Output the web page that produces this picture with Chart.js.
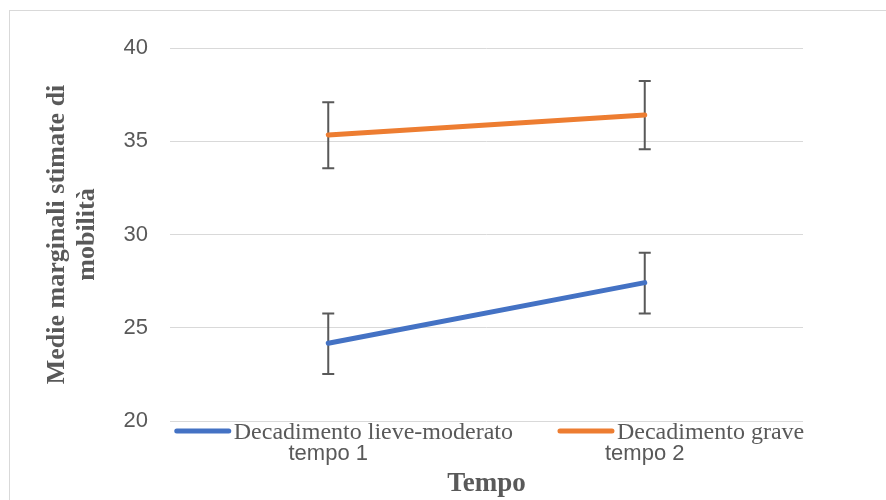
<!DOCTYPE html>
<html lang="it">
<head>
    <meta charset="UTF-8">
    <title>Medie marginali stimate di mobilità</title>
    <script src="https://cdn.jsdelivr.net/npm/chart.js@4.4.0"></script>
    <style>
        body { margin: 0; background: #fff; overflow: hidden; }
        .frame { position: absolute; left: 9px; top: 10px; width: 900px; height: 520px; border: 1px solid #d9d9d9; }
        canvas { position: absolute; left: 0; top: 0; }
    </style>
</head>
<body>
    <div class="frame"></div>
    <canvas id="chart" width="886" height="500"></canvas>

    <script>
        // valori
        const categories = ['tempo 1', 'tempo 2'];
        const seriesNames = ['Decadimento lieve-moderato', 'Decadimento grave'];
        const lieveMean = [24.17, 27.42];
        const lieveLow = [22.52, 25.77];
        const lieveHigh = [25.77, 29.02];
        const graveMean = [35.34, 36.41];
        const graveLow = [33.55, 34.57];
        const graveHigh = [37.09, 38.23];
        const yTicks = [20, 25, 30, 35, 40];

        const textColor = '#595959';
        const serif = "'Liberation Serif', 'Times New Roman', serif";
        const sans = "'Liberation Sans', Arial, sans-serif";

        // barre di errore, disegnate sotto le linee
        const errorBars = {
            id: 'errorBars',
            beforeDatasetsDraw(chart) {
                const { ctx, scales: { x, y } } = chart;
                ctx.save();
                ctx.strokeStyle = textColor;
                ctx.lineWidth = 2;
                chart.data.datasets.forEach(ds => {
                    ds.low.forEach((lo, i) => {
                        const px = x.getPixelForValue(i);
                        const top = y.getPixelForValue(ds.high[i]);
                        const bot = y.getPixelForValue(lo);
                        ctx.beginPath();
                        ctx.moveTo(px, top); ctx.lineTo(px, bot);
                        ctx.moveTo(px - 6, top); ctx.lineTo(px + 6, top);
                        ctx.moveTo(px - 6, bot); ctx.lineTo(px + 6, bot);
                        ctx.stroke();
                    });
                });
                ctx.restore();
            }
        };

        // legenda in stile Excel, sovrapposta all'asse
        const excelLegend = {
            id: 'excelLegend',
            afterDraw(chart) {
                const { ctx, chartArea } = chart;
                ctx.save();
                ctx.font = '24px ' + serif;
                const sample = 56, gapText = 3, gapItem = 45;
                const items = chart.data.datasets.map(ds => ({ ds, w: ctx.measureText(ds.label).width }));
                const total = items.reduce((s, it) => s + sample + gapText + it.w, 0) + gapItem * (items.length - 1);
                let xPos = (chartArea.left + chartArea.right) / 2 - total / 2 + 3;
                const yLine = 431, yText = 439;
                items.forEach(it => {
                    ctx.strokeStyle = it.ds.borderColor;
                    ctx.lineWidth = 5;
                    ctx.lineCap = 'round';
                    ctx.beginPath();
                    ctx.moveTo(xPos + 2, yLine); ctx.lineTo(xPos + sample - 2, yLine);
                    ctx.stroke();
                    ctx.fillStyle = textColor;
                    ctx.textBaseline = 'alphabetic';
                    ctx.fillText(it.ds.label, xPos + sample + gapText, yText);
                    xPos += sample + gapText + it.w + gapItem;
                });
                ctx.restore();
            }
        };

        new Chart(document.getElementById('chart'), {
            type: 'line',
            data: {
                labels: categories,
                datasets: [
                    { label: seriesNames[0], data: lieveMean, low: lieveLow, high: lieveHigh,
                      borderColor: '#4472c4', backgroundColor: '#4472c4' },
                    { label: seriesNames[1], data: graveMean, low: graveLow, high: graveHigh,
                      borderColor: '#ed7d31', backgroundColor: '#ed7d31' }
                ]
            },
            options: {
                responsive: false,
                animation: false,
                layout: { padding: { top: 48, right: 83, bottom: 0, left: 0 } },
                elements: {
                    line: { borderWidth: 5, tension: 0, borderCapStyle: 'round' },
                    point: { radius: 0, hoverRadius: 0 }
                },
                scales: {
                    x: {
                        offset: true,
                        grid: { display: false, drawTicks: false },
                        border: { display: false },
                        ticks: { color: textColor, font: { family: sans, size: 22 }, padding: 20, maxRotation: 0 },
                        title: { display: true, text: 'Tempo', color: textColor,
                                 font: { family: serif, size: 27, weight: 'bold' }, padding: { top: 0, bottom: 0 } },
                        afterFit(scale) { scale.height = 79; }
                    },
                    y: {
                        min: 20, max: 40,
                        afterBuildTicks(scale) { scale.ticks = yTicks.map(v => ({ value: v })); },
                        grid: { color: '#d9d9d9', lineWidth: 1, drawTicks: false },
                        border: { display: false },
                        ticks: { color: textColor, font: { family: sans, size: 22 }, padding: 22 },
                        title: { display: true, text: ['Medie marginali stimate di', 'mobilità'], color: textColor,
                                 font: { family: serif, size: 26, weight: 'bold', lineHeight: 30 / 26 },
                                 padding: { top: 42, bottom: 0 } },
                        afterFit(scale) { scale.width = 170; }
                    }
                },
                plugins: {
                    legend: { display: false },
                    tooltip: { enabled: false }
                }
            },
            plugins: [errorBars, excelLegend]
        });
    </script>
</body>
</html>
